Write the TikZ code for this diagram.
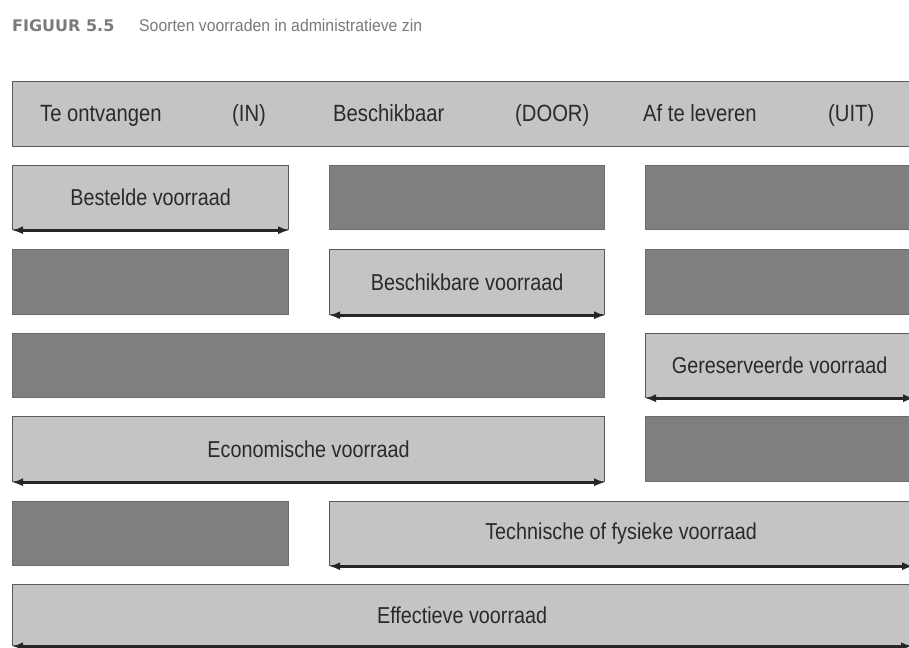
\documentclass[tikz,border=0pt]{standalone}
\usepackage{fontspec}
\setmainfont{Liberation Sans}[FakeStretch=0.86]
\newfontfamily\titlefont{Liberation Sans}[FakeStretch=0.93]
\newfontfamily\labelfont{DejaVu Sans}
\usetikzlibrary{arrows.meta}
\definecolor{lightfill}{HTML}{C4C4C4}
\definecolor{darkfill}{HTML}{7F7F7F}
\definecolor{edgegray}{HTML}{5A5A5A}
\definecolor{textgray}{HTML}{2A2A2A}
\definecolor{titlegray}{HTML}{7A7A7A}
\tikzset{
  box/.style={rectangle, anchor=north west, inner sep=0pt, line width=1.2pt},
  lightbox/.style={box, fill=lightfill, draw=edgegray, text=textgray,
    font=\fontsize{23}{26}\selectfont},
  darkbox/.style={box, fill=darkfill, draw=darkfill!85!black},
  headtext/.style={anchor=base west, inner sep=0pt, text=textgray,
    font=\fontsize{23.5}{26}\selectfont},
  span/.style={{Latex[length=11pt,width=8pt]}-{Latex[length=11pt,width=8pt]},
    line width=2.8pt, black!85}
}
\begin{document}
\begin{tikzpicture}[x=1pt,y=-1pt]
\useasboundingbox (0,0) rectangle (909,647);
\clip (0,0) rectangle (909,647);
\fill[white] (0,0) rectangle (909,647);

% title
\node[anchor=base west, inner sep=0pt, text=titlegray] (fignum) at (12,32)
  {\labelfont\bfseries\fontsize{16}{18}\selectfont FIGUUR 5.5};
\node[anchor=base west, inner sep=0pt, text=titlegray] (title) at (139,32)
  {\titlefont\fontsize{17}{20}\selectfont Soorten voorraden in administratieve zin};

% header bar
\node[box, fill=lightfill, draw=edgegray, minimum width=910pt, minimum height=65pt] (head) at (12,81) {};
\node[headtext] (h1) at (40,122) {Te ontvangen};
\node[headtext] (h2) at (232,122) {(IN)};
\node[headtext] (h3) at (333,122) {Beschikbaar};
\node[headtext] (h4) at (515,122) {(DOOR)};
\node[headtext] (h5) at (643,122) {Af te leveren};
\node[headtext] (h6) at (828,122) {(UIT)};

% row 1
\node[lightbox, minimum width=276pt, minimum height=64pt] (besteld) at (12,165) {Bestelde voorraad};
\node[darkbox, minimum width=275pt, minimum height=64pt] (d12) at (329,165) {};
\node[darkbox, minimum width=280pt, minimum height=64pt] (d13) at (645,165) {};
% row 2
\node[darkbox, minimum width=276pt, minimum height=65pt] (d21) at (12,249) {};
\node[lightbox, minimum width=275pt, minimum height=65pt] (beschikbaar) at (329,249) {Beschikbare voorraad};
\node[darkbox, minimum width=280pt, minimum height=65pt] (d23) at (645,249) {};
% row 3
\node[darkbox, minimum width=592pt, minimum height=64pt] (d31) at (12,333) {};
\node[lightbox, minimum width=268pt, minimum height=64pt] (gereserveerd) at (645,333) {Gereserveerde voorraad};
% row 4
\node[lightbox, minimum width=592pt, minimum height=65pt] (economisch) at (12,416) {Economische voorraad};
\node[darkbox, minimum width=280pt, minimum height=65pt] (d43) at (645,416) {};
% row 5
\node[darkbox, minimum width=276pt, minimum height=64pt] (d51) at (12,501) {};
\node[lightbox, minimum width=583pt, minimum height=64pt] (technisch) at (329,501) {Technische of fysieke voorraad};
% row 6
\node[lightbox, minimum width=899pt, minimum height=61pt] (effectief) at (12,584) {Effectieve voorraad};

% spans along the lower edges
\foreach \b in {besteld,beschikbaar,gereserveerd,economisch,technisch,effectief}
  \draw[span] (\b.south west) -- (\b.south east);
\end{tikzpicture}
\end{document}
